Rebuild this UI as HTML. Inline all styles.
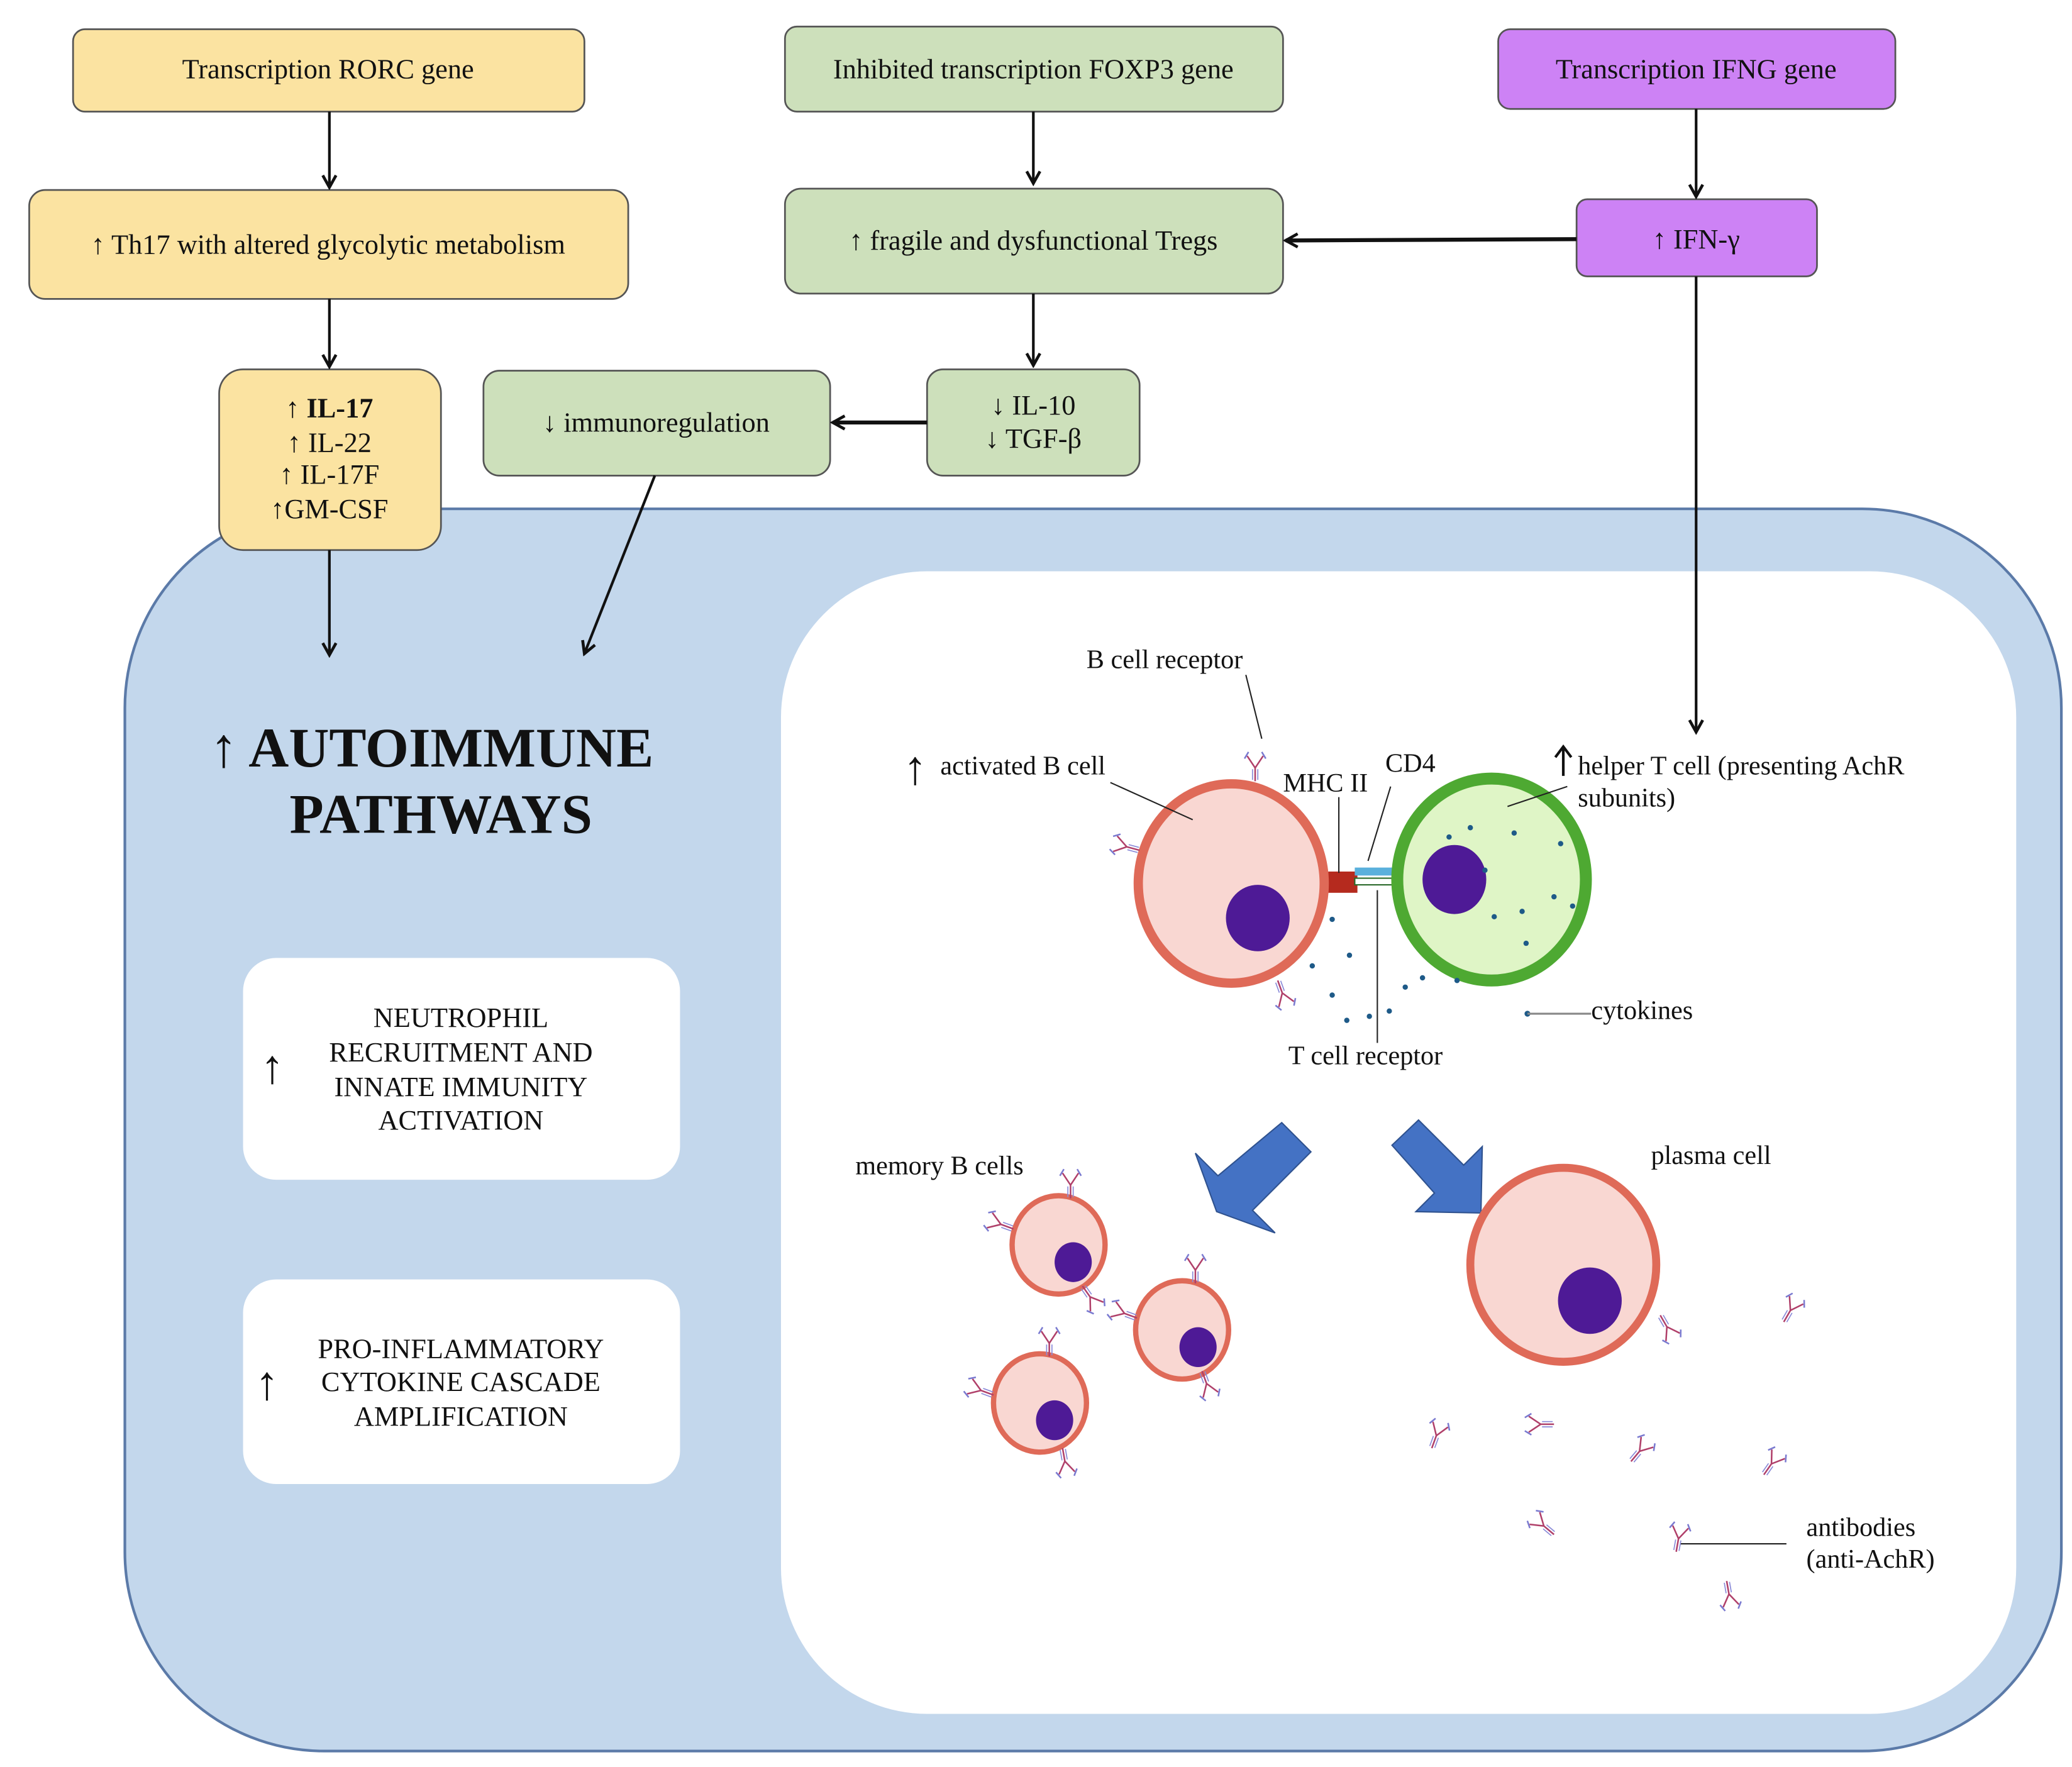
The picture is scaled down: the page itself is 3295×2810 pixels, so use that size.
<!DOCTYPE html>
<html><head><meta charset="utf-8"><style>html,body{margin:0;padding:0;background:#fff}svg{display:block}</style></head>
<body>
<svg width="3295" height="2810" viewBox="0 0 1560 1330" preserveAspectRatio="none" xmlns="http://www.w3.org/2000/svg" font-family="Liberation Serif, serif">
<defs>
<marker id="ah" markerWidth="12" markerHeight="12" refX="10" refY="6" orient="auto" markerUnits="userSpaceOnUse">
<path d="M1,1 L10,6 L1,11" fill="none" stroke="#111" stroke-width="2.2"/></marker>
<g id="ab" stroke-width="1.2" fill="none">
<path d="M0,0 L0,-10 L-6,-19 M0,-10 L6,-19" stroke="#b0406a"/>
<path d="M-2,-1 L-2,-9 M2,-1 L2,-9" stroke="#8a8ad8" stroke-width="0.8"/>
<path d="M-8,-17 L-5,-22 M8,-17 L5,-22" stroke="#7a7ad0"/>
</g>
</defs>
<rect x="94" y="383" width="1458" height="935" rx="150" fill="#c3d7ec" stroke="#5b7aa8" stroke-width="2"/>
<rect x="588" y="430" width="930" height="860" rx="110" fill="#fff"/>
<rect x="183" y="721" width="329" height="167" rx="25" fill="#fff"/>
<rect x="183" y="963" width="329" height="154" rx="25" fill="#fff"/>

<g stroke="#555" stroke-width="1.3">
<rect x="55" y="22" width="385" height="62" rx="9" fill="#fbe3a1"/>
<rect x="22" y="143" width="451" height="82" rx="12" fill="#fbe3a1"/>
<rect x="165" y="278" width="167" height="136" rx="18" fill="#fbe3a1"/>
<rect x="591" y="20" width="375" height="64" rx="9" fill="#cde0bb"/>
<rect x="591" y="142" width="375" height="79" rx="12" fill="#cde0bb"/>
<rect x="698" y="278" width="160" height="80" rx="12" fill="#cde0bb"/>
<rect x="364" y="279" width="261" height="79" rx="12" fill="#cde0bb"/>
<rect x="1128" y="22" width="299" height="60" rx="9" fill="#cd82f5"/>
<rect x="1187" y="150" width="181" height="58" rx="8" fill="#cd82f5"/>
</g>
<g font-size="21" fill="#111" text-anchor="middle">
<text x="247" y="59">Transcription RORC gene</text>
<text x="247" y="191">↑ Th17 with altered glycolytic metabolism</text>
<text x="248" y="314" font-weight="bold">↑ IL-17</text>
<text x="248" y="340">↑ IL-22</text>
<text x="248" y="364">↑ IL-17F</text>
<text x="248" y="390">↑GM-CSF</text>
<text x="778" y="59">Inhibited transcription FOXP3 gene</text>
<text x="778" y="188">↑ fragile and dysfunctional Tregs</text>
<text x="778" y="312">↓ IL-10</text>
<text x="778" y="337">↓ TGF-β</text>
<text x="494" y="325">↓ immunoregulation</text>
<text x="1277" y="59">Transcription IFNG gene</text>
<text x="1277" y="187">↑ IFN-γ</text>
</g>
<g stroke="#111" stroke-width="2" fill="none" marker-end="url(#ah)">
<line x1="248" y1="84" x2="248" y2="141"/>
<line x1="248" y1="225" x2="248" y2="276"/>
<line x1="248" y1="414" x2="248" y2="493"/>
<line x1="778" y1="84" x2="778" y2="138"/>
<line x1="778" y1="221" x2="778" y2="275"/>
<line x1="698" y1="318" x2="627" y2="318" stroke-width="3"/>
<line x1="1187" y1="180" x2="968" y2="181" stroke-width="3"/>
<line x1="1277" y1="82" x2="1277" y2="148"/>
<line x1="1277" y1="208" x2="1277" y2="551"/>
<line x1="493" y1="358" x2="440" y2="492"/>
</g>
<g font-weight="bold" font-size="42" text-anchor="middle" fill="#111">
<text x="325" y="577">↑ AUTOIMMUNE</text>
<text x="332" y="627">PATHWAYS</text>
</g>
<g font-size="21" text-anchor="middle" fill="#111">
<text x="347" y="773">NEUTROPHIL</text>
<text x="347" y="799">RECRUITMENT AND</text>
<text x="347" y="825">INNATE IMMUNITY</text>
<text x="347" y="850">ACTIVATION</text>
<text x="347" y="1022">PRO-INFLAMMATORY</text>
<text x="347" y="1047">CYTOKINE CASCADE</text>
<text x="347" y="1073">AMPLIFICATION</text>
<text x="205" y="815" font-size="36">↑</text>
<text x="201" y="1053" font-size="36">↑</text>
</g>
<g>
<rect x="1000" y="656" width="22" height="16" fill="#b52a1e"/>
<rect x="1020" y="653" width="32" height="6" fill="#5ab0dc"/>
<rect x="1020" y="661" width="32" height="5" fill="#fff" stroke="#2a6a2a" stroke-width="1"/>
<ellipse cx="927" cy="665" rx="70" ry="75" fill="#f9d7d2" stroke="#df6a58" stroke-width="7"/>
<ellipse cx="947" cy="691" rx="24" ry="25" fill="#4e1a96"/>
<ellipse cx="1123" cy="662" rx="71" ry="76" fill="#dff5c6" stroke="#4ea932" stroke-width="9"/>
<ellipse cx="1095" cy="662" rx="24" ry="26" fill="#4e1a96"/>
<g fill="#1e5a88">
<circle cx="1107" cy="623" r="2"/><circle cx="1140" cy="627" r="2"/><circle cx="1175" cy="635" r="2"/><circle cx="1091" cy="630" r="2"/>
<circle cx="1146" cy="686" r="2"/><circle cx="1125" cy="690" r="2"/><circle cx="1170" cy="675" r="2"/><circle cx="1184" cy="682" r="2"/><circle cx="1149" cy="710" r="2"/><circle cx="1118" cy="655" r="2"/>
<circle cx="988" cy="727" r="2"/><circle cx="1016" cy="719" r="2"/><circle cx="1003" cy="749" r="2"/><circle cx="1031" cy="765" r="2"/><circle cx="1058" cy="743" r="2"/><circle cx="1071" cy="736" r="2"/><circle cx="1097" cy="738" r="2"/><circle cx="1014" cy="768" r="2"/><circle cx="1046" cy="761" r="2"/><circle cx="1003" cy="692" r="2"/>
<circle cx="1150" cy="763" r="2.2"/>
</g>
</g>
<use href="#ab" transform="translate(945,588)"/>
<use href="#ab" transform="translate(858,640) rotate(-75)"/>
<use href="#ab" transform="translate(962,738) rotate(160)"/>
<g stroke="#222" stroke-width="1" fill="none">
<line x1="938" y1="508" x2="950" y2="556"/>
<line x1="836" y1="589" x2="898" y2="617"/>
<line x1="1008" y1="600" x2="1008" y2="657"/>
<line x1="1047" y1="592" x2="1030" y2="648"/>
<line x1="1037" y1="670" x2="1037" y2="785"/>
<line x1="1135" y1="607" x2="1180" y2="592"/>
<line x1="1150" y1="763" x2="1198" y2="763" stroke="#888" stroke-width="1.5"/>
<line x1="1265" y1="1162" x2="1345" y2="1162"/>
</g>
<path d="M1177,584 L1177,562 M1171,570 L1177,562 L1183,570" stroke="#111" stroke-width="2" fill="none"/>
<text x="689" y="590" font-size="36" fill="#111" text-anchor="middle">↑</text>
<g font-size="20" fill="#111">
<text x="818" y="503">B cell receptor</text>
<text x="708" y="583">activated B cell</text>
<text x="966" y="596">MHC II</text>
<text x="1043" y="581">CD4</text>
<text x="1188" y="583">helper T cell (presenting AchR</text>
<text x="1188" y="607">subunits)</text>
<text x="1198" y="767">cytokines</text>
<text x="970" y="801">T cell receptor</text>
<text x="644" y="884">memory B cells</text>
<text x="1243" y="876">plasma cell</text>
<text x="1360" y="1156">antibodies</text>
<text x="1360" y="1180">(anti-AchR)</text>
</g>
<path d="M965,845 L987,867 L943,911 L960,928 L916,912 L900,868 L917,885 Z" fill="#4472c4" stroke="#2f528f" stroke-width="1"/>
<path d="M1048,862 L1068,843 L1102,877 L1116,863 L1115,913 L1066,912 L1080,898 Z" fill="#4472c4" stroke="#2f528f" stroke-width="1"/>
<g>
<ellipse cx="797" cy="937" rx="35" ry="37" fill="#f9d7d2" stroke="#df6a58" stroke-width="4"/>
<ellipse cx="808" cy="950" rx="14" ry="15" fill="#4e1a96"/>
<ellipse cx="890" cy="1001" rx="35" ry="37" fill="#f9d7d2" stroke="#df6a58" stroke-width="4"/>
<ellipse cx="902" cy="1014" rx="14" ry="15" fill="#4e1a96"/>
<ellipse cx="783" cy="1056" rx="35" ry="37" fill="#f9d7d2" stroke="#df6a58" stroke-width="4"/>
<ellipse cx="794" cy="1069" rx="14" ry="15" fill="#4e1a96"/>
<ellipse cx="1177" cy="952" rx="70" ry="73" fill="#f9d7d2" stroke="#df6a58" stroke-width="6"/>
<ellipse cx="1197" cy="979" rx="24" ry="25" fill="#4e1a96"/>
</g>
<use href="#ab" transform="translate(806,902)"/>
<use href="#ab" transform="translate(763,925) rotate(-70)"/>
<use href="#ab" transform="translate(815,968) rotate(145)"/>
<use href="#ab" transform="translate(900,966)"/>
<use href="#ab" transform="translate(856,992) rotate(-70)"/>
<use href="#ab" transform="translate(905,1032) rotate(160)"/>
<use href="#ab" transform="translate(790,1021)"/>
<use href="#ab" transform="translate(748,1050) rotate(-70)"/>
<use href="#ab" transform="translate(800,1090) rotate(170)"/>
<use href="#ab" transform="translate(1250,990) rotate(150)"/>
<use href="#ab" transform="translate(1343,995) rotate(30)"/>
<use href="#ab" transform="translate(1078,1090) rotate(20)"/>
<use href="#ab" transform="translate(1170,1072) rotate(-90)"/>
<use href="#ab" transform="translate(1228,1100) rotate(40)"/>
<use href="#ab" transform="translate(1328,1110) rotate(35)"/>
<use href="#ab" transform="translate(1170,1155) rotate(-50)"/>
<use href="#ab" transform="translate(1262,1168) rotate(10)"/>
<use href="#ab" transform="translate(1300,1190) rotate(170)"/>
</svg>
</body></html>
